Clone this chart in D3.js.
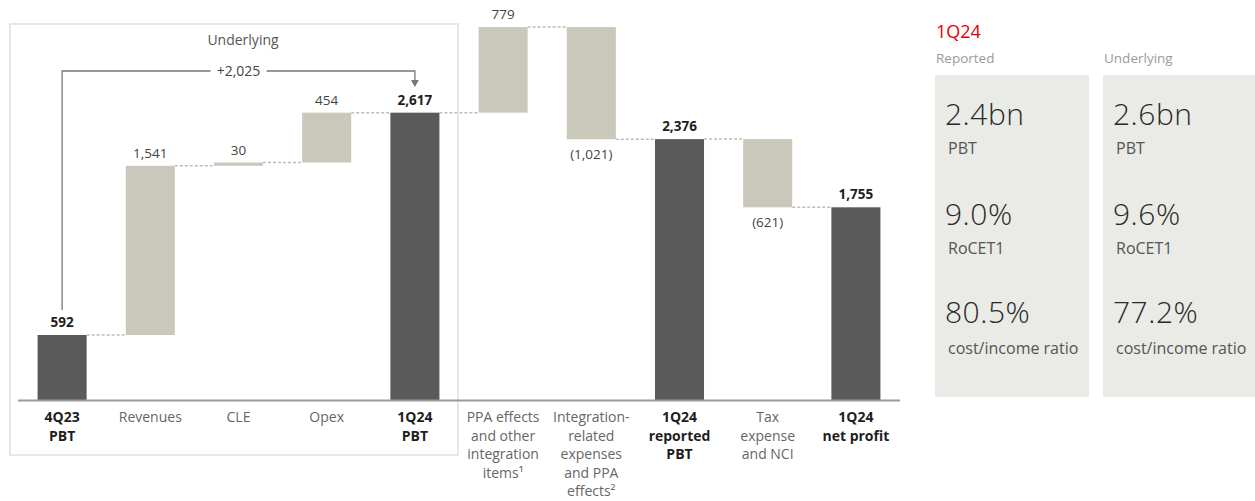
<!DOCTYPE html>
<html><head><meta charset="utf-8">
<script src="https://cdn.jsdelivr.net/npm/d3@7"></script>
<style>body{margin:0;background:#fff;}svg{display:block;font-family:"Open Sans",sans-serif;}</style>
</head><body><svg id="c" width="1255" height="501"></svg>
<script>
const categories = ["4Q23 PBT","Revenues","CLE","Opex","1Q24 PBT","PPA effects","Integration","1Q24 reported PBT","Tax expense","1Q24 net profit"];
const categoryLines = [["4Q23","PBT"],["Revenues"],["CLE"],["Opex"],["1Q24","PBT"],["PPA effects","and other","integration","items¹"],["Integration-","related","expenses","and PPA","effects²"],["1Q24","reported","PBT"],["Tax","expense","and NCI"],["1Q24","net profit"]];
const values = [592, 1541, 30, 454, 2617, 779, -1021, 2376, -621, 1755];
const isTotal = [true,false,false,false,true,false,false,true,false,true];
const valueLabels = ["592","1,541","30","454","2,617","779","(1,021)","2,376","(621)","1,755"];
const bridgeLabel = "+2,025";
const panelTitle = "1Q24";
const panelColumns = ["Reported","Underlying"];
const panelValues = [["2.4bn","9.0%","80.5%"],["2.6bn","9.6%","77.2%"]];
const panelMetrics = ["PBT","RoCET1","cost/income ratio"];

const svg = d3.select("#c");
const x = d3.scaleBand().domain(categories).range([18,900]).paddingInner(0.444).paddingOuter(0.222);
const y = d3.scaleLinear().domain([0,3643]).range([400,0]);

let run = 0;
const bars = categories.map((c,i)=>{
  let lo, hi;
  if (isTotal[i]) { lo = 0; hi = values[i]; run = values[i]; }
  else { const s = run; run = run + values[i]; lo = Math.min(s,run); hi = Math.max(s,run); }
  return {c, i, lo, hi, end: run, v: values[i]};
});

// underlying box
svg.append("rect").attr("x",10).attr("y",24).attr("width",448).attr("height",431)
  .attr("fill","none").attr("stroke","#e0e0e0").attr("stroke-width",1.5);
svg.append("text").attr("x",243).attr("y",45).attr("text-anchor","middle")
  .attr("font-size",14).attr("fill","#555").text("Underlying");

// connectors
bars.forEach((b,i)=>{
  if (i===bars.length-1) return;
  const yy = y(b.end);
  svg.append("line").attr("x1",x(b.c)+x.bandwidth()).attr("x2",x(bars[i+1].c))
    .attr("y1",yy).attr("y2",yy).attr("stroke","#bdbdbd").attr("stroke-width",1.5).attr("stroke-dasharray","3,2");
});

// bars
svg.selectAll("rect.bar").data(bars).join("rect").attr("class","bar")
  .attr("x",d=>x(d.c)).attr("width",x.bandwidth())
  .attr("y",d=>y(d.hi)).attr("height",d=>Math.max(1.5,y(d.lo)-y(d.hi)))
  .attr("fill",(d)=>isTotal[d.i]?"#5a5a5a":"#cac8ba");

// axis line
svg.append("line").attr("x1",18).attr("x2",900).attr("y1",400.5).attr("y2",400.5)
  .attr("stroke","#9a9a9a").attr("stroke-width",2);

// value labels
svg.selectAll("text.val").data(bars).join("text").attr("class","val")
  .attr("x",d=>x(d.c)+x.bandwidth()/2)
  .attr("y",d=> d.v<0 ? y(d.lo)+20 : y(d.hi)-8)
  .attr("text-anchor","middle").attr("font-size",13.5)
  .attr("font-weight",d=>isTotal[d.i]?"bold":"normal")
  .attr("fill",d=>isTotal[d.i]?"#1e1e1e":"#444")
  .text(d=>valueLabels[d.i]);

// category labels
bars.forEach(b=>{
  const t = svg.append("text").attr("x",x(b.c)+x.bandwidth()/2).attr("y",422)
    .attr("text-anchor","middle").attr("font-size",14)
    .attr("font-weight",isTotal[b.i]?"bold":"normal")
    .attr("fill",isTotal[b.i]?"#1e1e1e":"#666");
  categoryLines[b.i].forEach((ln,k)=>{
    t.append("tspan").attr("x",x(b.c)+x.bandwidth()/2).attr("dy",k===0?0:18.5).text(ln);
  });
});

// bridge arrow
const x0 = x(categories[0])+x.bandwidth()/2, x1 = x(categories[4])+x.bandwidth()/2;
const topY = 71;
svg.append("path").attr("d",`M${x0},310V${topY}H${x1}V82`).attr("fill","none")
  .attr("stroke","#777").attr("stroke-width",1.3);
svg.append("path").attr("d",`M${x1-4},80L${x1+4},80L${x1},87Z`).attr("fill","#777");
const mx=(x0+x1)/2;
svg.append("rect").attr("x",mx-28).attr("y",topY-8).attr("width",56).attr("height",16).attr("fill","#fff");
svg.append("text").attr("x",mx).attr("y",topY+5).attr("text-anchor","middle")
  .attr("font-size",14).attr("fill","#444").text(bridgeLabel);

// right panel
svg.append("text").attr("x",936).attr("y",38).attr("font-size",18).attr("fill","#e60000").text(panelTitle);
const px = [935,1103];
const valY = [125,225,323];
const metY = [154,254,354];
panelColumns.forEach((col,j)=>{
  svg.append("text").attr("x",px[j]+1).attr("y",63).attr("font-size",13.5).attr("fill","#9a9a9a").text(col);
  svg.append("rect").attr("x",px[j]).attr("y",75).attr("width",154).attr("height",322).attr("fill","#eaeae6");
  panelValues[j].forEach((v,k)=>{
    svg.append("text").attr("x",px[j]+10).attr("y",valY[k]).attr("font-size",30).attr("font-weight",300)
      .attr("letter-spacing",0.5).attr("fill","#2a2a2a").text(v);
    svg.append("text").attr("x",px[j]+13).attr("y",metY[k]).attr("font-size",16).attr("fill","#555").text(panelMetrics[k]);
  });
});
</script></body></html>
